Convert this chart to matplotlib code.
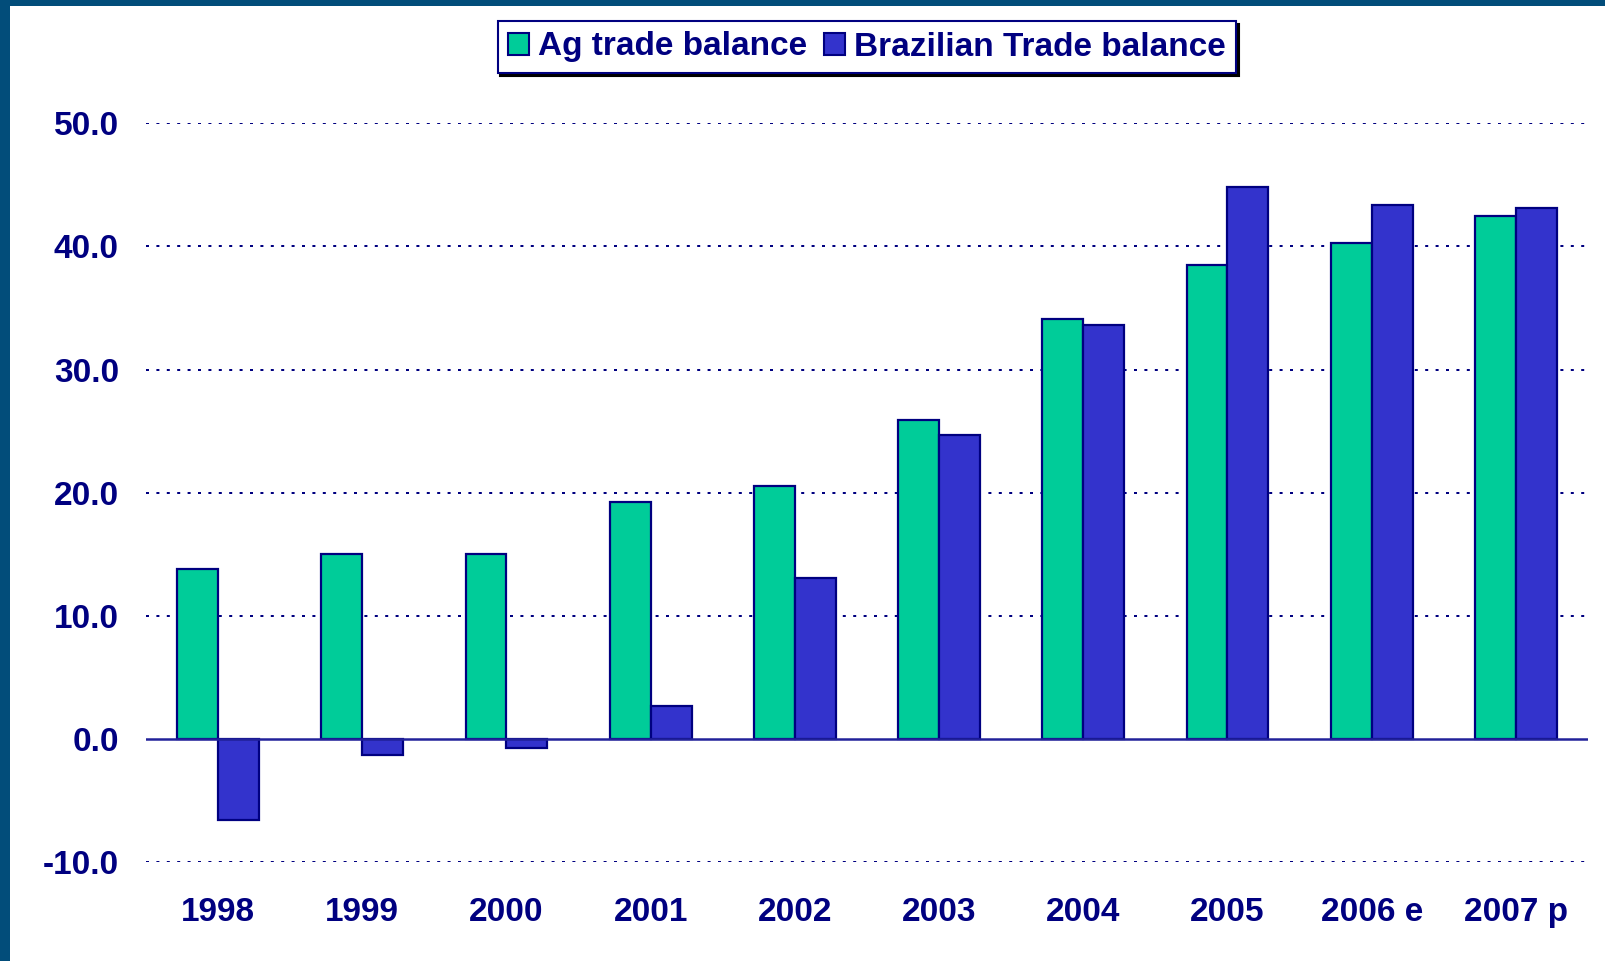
import matplotlib
matplotlib.use("Agg")
import matplotlib.pyplot as plt
import numpy as np
from matplotlib.patches import Patch, Rectangle

categories = ["1998", "1999", "2000", "2001", "2002", "2003", "2004", "2005", "2006 e", "2007 p"]
ag_balance = [13.8, 15.0, 15.0, 19.2, 20.5, 25.9, 34.1, 38.5, 40.3, 42.5]
br_balance = [-6.6, -1.3, -0.7, 2.7, 13.1, 24.7, 33.6, 44.8, 43.4, 43.1]
series_names = ["Ag trade balance", "Brazilian Trade balance"]
yticks = [-10, 0, 10, 20, 30, 40, 50]

GREEN = "#00CC99"
BLUE = "#3333CC"
NAVY = "#000080"
BORDER = "#024D7A"

plt.rcParams['font.family'] = ['Liberation Sans', 'DejaVu Sans']
plt.rcParams['font.weight'] = 'bold'

fig = plt.figure(figsize=(16.06, 9.61), dpi=100)
fig.patch.set_facecolor("white")

# dark frame at top and left
fig.add_artist(Rectangle((0, 1 - 6 / 961), 1, 6 / 961, transform=fig.transFigure,
                         facecolor=BORDER, edgecolor="none", zorder=0))
fig.add_artist(Rectangle((0, 0), 10 / 1606, 1, transform=fig.transFigure,
                         facecolor=BORDER, edgecolor="none", zorder=0))

ax = fig.add_axes([146 / 1606, (961 - 862) / 961, 1442 / 1606, (862 - 123.3) / 961])
x = np.arange(len(categories))
w = 0.284
ax.bar(x - w / 2, ag_balance, width=w, color=GREEN, edgecolor=NAVY, linewidth=1.6, zorder=3)
ax.bar(x + w / 2, br_balance, width=w, color=BLUE, edgecolor=NAVY, linewidth=1.6, zorder=3)

ax.set_xlim(-0.5, len(categories) - 0.5)
ax.set_ylim(-10, 50)
ax.set_yticks(yticks)
ax.set_yticklabels([f"{v:.1f}" for v in yticks])
ax.set_xticks(x)
ax.set_xticklabels(categories)

for v in yticks:
    if v == 0:
        continue
    ax.axhline(v, color=NAVY, linewidth=1.44, linestyle=(0, (1.5, 3.7)), zorder=1, snap=True)
ax.axhline(0, color="#22229A", linewidth=1.8, zorder=4)

for s in ax.spines.values():
    s.set_visible(False)
ax.tick_params(axis="both", length=0, labelsize=24, labelcolor=NAVY)
ax.tick_params(axis="y", pad=19.5)
ax.tick_params(axis="x", pad=25)
for lab in ax.get_xticklabels() + ax.get_yticklabels():
    lab.set_fontweight("bold")

handles = [Patch(facecolor=GREEN, edgecolor=NAVY, linewidth=1.5),
           Patch(facecolor=BLUE, edgecolor=NAVY, linewidth=1.5)]
leg = fig.legend(handles, series_names, loc="center", bbox_to_anchor=(867 / 1606, 1 - 47 / 961),
                 ncol=2, frameon=True, fancybox=False, shadow={'color': 'black', 'alpha': 1},
                 handlelength=0.62, handleheight=0.62, handletextpad=0.28, columnspacing=0.5,
                 borderpad=0.32, borderaxespad=0,
                 prop={'size': 24, 'weight': 'bold'})
leg.get_frame().set_edgecolor(NAVY)
leg.get_frame().set_linewidth(1.5)
for t in leg.get_texts():
    t.set_color(NAVY)

fig.savefig("out.png", dpi=100, facecolor="white")
